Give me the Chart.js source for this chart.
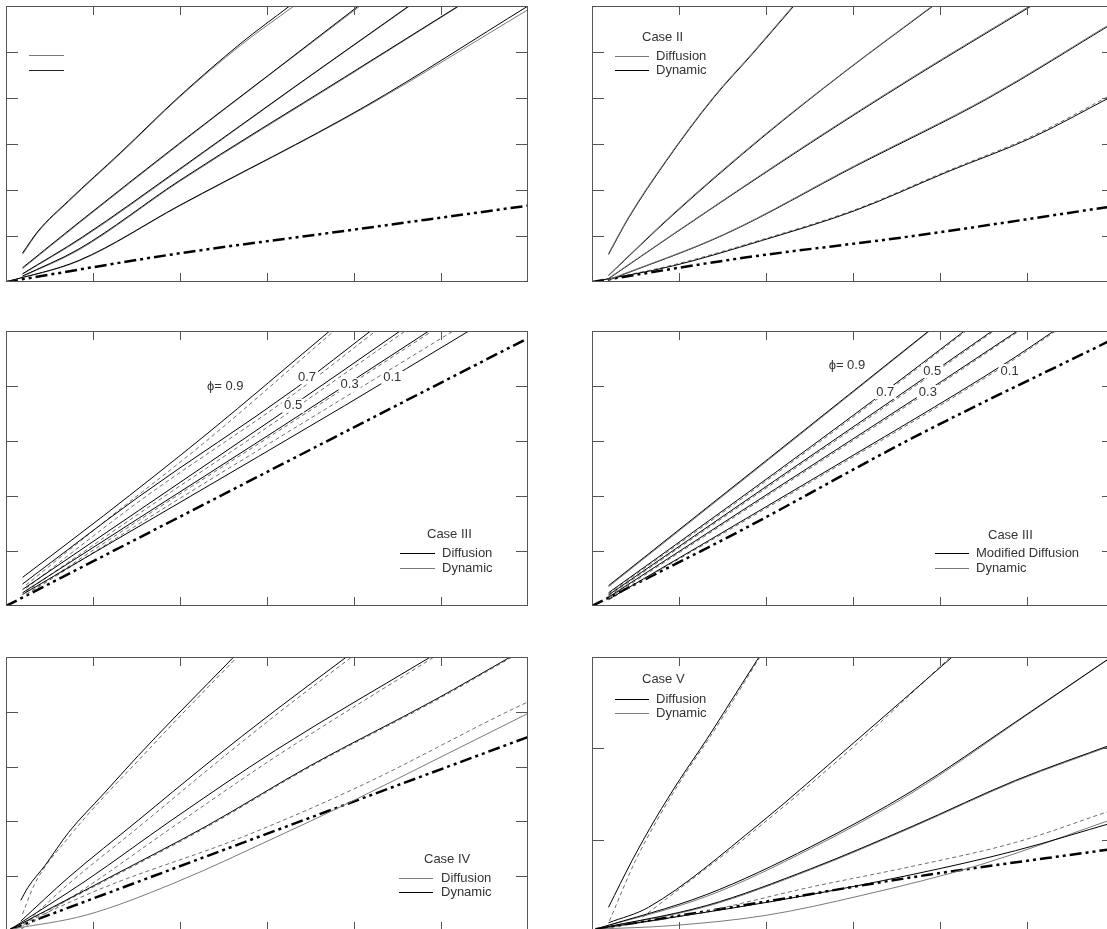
<!DOCTYPE html>
<html>
<head>
<meta charset="utf-8">
<script src="https://cdn.jsdelivr.net/npm/chart.js@4.4.0/dist/chart.umd.min.js"></script>
<style>
  html, body { margin: 0; padding: 0; background: #fff; overflow: hidden; width: 1107px; height: 929px; }
  canvas { position: absolute; }
</style>
</head>
<body>
<canvas id="g1" width="522" height="276" style="left:6px;top:6px"></canvas>
<canvas id="g2" width="522" height="276" style="left:592px;top:6px"></canvas>
<canvas id="g3" width="522" height="275" style="left:6px;top:331px"></canvas>
<canvas id="g4" width="522" height="275" style="left:592px;top:331px"></canvas>
<canvas id="g5" width="522" height="274" style="left:6px;top:657px"></canvas>
<canvas id="g6" width="522" height="274" style="left:592px;top:657px"></canvas>
<script>
// Marcas dos eixos
const ticksX = [1, 2, 3, 4, 5];
const ticksY6 = [1, 2, 3, 4, 5];
const ticksY5 = [1, 2, 3, 4];
const ticksY3 = [1, 2];

// Painel 1
const p1_c1_dif = [[0.19,0.63],[0.37,1.11],[0.72,1.77],[1.32,2.82],[1.99,4.03],[2.70,5.19],[3.26,6.0]];
const p1_c1_din = [[0.19,0.60],[0.37,1.09],[0.72,1.75],[1.32,2.80],[1.99,4.01],[2.70,5.15],[3.31,6.0]];
const p1_c2_dif = [[0.19,0.31],[0.84,1.30],[1.99,3.01],[3.02,4.50],[4.05,6.0]];
const p1_c2_din = [[0.19,0.29],[0.84,1.28],[1.99,2.99],[3.02,4.49],[4.07,6.0]];
const p1_c3_dif = [[0.19,0.18],[0.88,0.98],[1.99,2.45],[3.30,4.22],[4.63,6.0]];
const p1_c3_din = [[0.19,0.17],[0.88,0.96],[1.99,2.43],[3.30,4.21],[4.64,6.0]];
const p1_c4_dif = [[0.19,0.13],[0.84,0.72],[1.99,2.20],[3.89,4.45],[5.20,6.0]];
const p1_c4_din = [[0.19,0.12],[0.84,0.70],[1.99,2.18],[3.89,4.43],[5.21,6.0]];
const p1_c5_dif = [[0.0,0.0],[0.84,0.47],[1.99,1.66],[4.13,3.82],[6.0,6.0]];
const p1_c5_din = [[0.0,0.0],[0.84,0.46],[1.99,1.65],[4.13,3.80],[6.0,5.92]];
const p1_base = [[0,0],[1.91,0.60],[3.89,1.11],[6.0,1.66]];

// Painel 2 - Case II
const p2_c1_dif = [[0.19,0.62],[0.42,1.41],[0.85,2.64],[1.40,4.03],[1.84,4.97],[2.31,6.0]];
const p2_c1_din = [[0.19,0.60],[0.42,1.39],[0.85,2.62],[1.40,4.01],[1.84,4.95],[2.32,6.0]];
const p2_c2_dif = [[0.19,0.15],[0.93,1.48],[1.95,3.15],[2.90,4.57],[3.91,6.0]];
const p2_c2_din = [[0.19,0.14],[0.93,1.46],[1.95,3.13],[2.90,4.56],[3.92,6.0]];
const p2_c3_dif = [[0.19,0.08],[0.93,1.04],[2.51,3.04],[3.69,4.46],[5.03,6.0]];
const p2_c3_din = [[0.19,0.07],[0.93,1.03],[2.51,3.02],[3.69,4.44],[5.05,6.0]];
const p2_c4_dif = [[0.19,0.05],[1.52,1.04],[3.02,2.53],[4.56,4.02],[6.0,5.66]];
const p2_c4_din = [[0.19,0.04],[1.52,1.03],[3.02,2.51],[4.56,4.00],[6.0,5.64]];
const p2_c5_dif = [[0,0],[0.93,0.35],[1.95,0.90],[3.02,1.55],[4.08,2.39],[5.07,3.15],[6.0,4.06]];
const p2_c5_din = [[0,0],[0.93,0.37],[1.95,0.92],[3.02,1.57],[4.08,2.41],[5.07,3.18],[6.0,4.10]];
const p2_base = [[0,0],[1.72,0.52],[3.69,1.0],[6.0,1.65]];

// Painel 3 - Case III
const p3_09_dif = [[0.19,0.52],[1.12,1.64],[2.31,3.13],[3.72,5.0]];
const p3_09_din = [[0.23,0.38],[1.12,1.52],[2.31,3.01],[3.77,5.0]];
const p3_07_dif = [[0.19,0.40],[1.52,1.98],[3.34,3.97],[4.19,5.0]];
const p3_07_din = [[0.23,0.32],[1.52,1.89],[3.34,3.89],[4.25,5.0]];
const p3_05_dif = [[0.19,0.30],[1.52,1.73],[3.18,3.52],[4.53,5.0]];
const p3_05_din = [[0.23,0.26],[1.52,1.67],[3.18,3.44],[4.59,5.0]];
const p3_03_dif = [[0.19,0.24],[1.52,1.59],[3.10,3.19],[4.86,5.0]];
const p3_03_din = [[0.23,0.21],[1.52,1.55],[3.10,3.15],[4.90,5.0]];
const p3_01_dif = [[0.19,0.21],[1.91,1.80],[3.89,3.64],[5.32,5.0]];
const p3_01_din = [[0.23,0.20],[1.91,1.87],[3.89,3.79],[5.14,5.0]];
const p3_base = [[0,0],[1.91,1.55],[3.89,3.16],[6.0,4.87]];

// Painel 4 - Case III (modified)
const p4_09_dif = [[0.19,0.37],[2.03,2.68],[3.87,5.0]];
const p4_09_din = [[0.19,0.35],[2.03,2.66],[3.88,5.0]];
const p4_07_dif = [[0.19,0.24],[1.72,1.98],[3.26,3.77],[4.28,5.0]];
const p4_07_din = [[0.19,0.22],[1.72,1.95],[3.26,3.74],[4.30,5.0]];
const p4_05_dif = [[0.19,0.20],[2.11,2.29],[4.00,4.34],[4.60,5.0]];
const p4_05_din = [[0.19,0.18],[2.11,2.26],[4.00,4.31],[4.62,5.0]];
const p4_03_dif = [[0.19,0.16],[2.11,2.13],[3.87,3.93],[4.89,5.0]];
const p4_03_din = [[0.19,0.14],[2.11,2.10],[3.87,3.90],[4.91,5.0]];
const p4_01_dif = [[0.19,0.12],[2.51,2.28],[4.79,4.45],[5.31,5.0]];
const p4_01_din = [[0.19,0.11],[2.51,2.25],[4.79,4.42],[5.33,5.0]];
const p4_base = [[0,0],[1.72,1.38],[3.69,3.06],[6.0,4.86]];

// Painel 5 - Case IV
const p5_c1_dif = [[0.17,0.56],[0.25,0.79],[0.45,1.20],[0.72,1.80],[1.12,2.50],[1.52,3.20],[1.91,3.85],[2.31,4.50],[2.63,5.02]];
const p5_c1_din = [[0.19,0.31],[0.33,0.86],[0.72,1.71],[1.12,2.44],[1.52,3.11],[1.91,3.77],[2.31,4.43],[2.67,5.02]];
const p5_c2_dif = [[0.17,0.18],[0.72,0.98],[1.52,2.02],[2.31,3.05],[3.10,4.03],[3.93,5.02]];
const p5_c2_din = [[0.19,0.09],[0.72,0.86],[1.52,1.89],[2.31,2.93],[3.10,3.94],[3.99,5.02]];
const p5_c3_dif = [[0.05,0.03],[0.92,0.92],[1.91,2.03],[3.10,3.30],[4.90,5.02]];
const p5_c3_din = [[0.17,0.03],[0.92,0.79],[1.91,1.89],[3.10,3.18],[4.94,5.02]];
const p5_c4_dif = [[0.05,0.03],[1.12,0.92],[2.31,1.92],[3.50,3.02],[4.92,4.21],[5.82,5.02]];
const p5_c4_din = [[0.05,0.03],[1.12,0.90],[2.31,1.90],[3.50,3.00],[4.92,4.19],[5.84,5.02]];
const p5_c5_din = [[0.05,0.03],[1.12,0.79],[2.71,1.71],[4.09,2.66],[5.76,4.00],[6.0,4.18]];
const p5_c6_dif = [[0.05,0.03],[0.92,0.29],[1.91,0.86],[3.10,1.71],[3.89,2.30],[5.08,3.24],[6.0,3.97]];
const p5_base = [[0.05,0.03],[1.91,1.13],[3.89,2.30],[6.0,3.54]];

// Painel 6 - Case V
const p6_c1_dif = [[0.19,0.26],[0.46,0.77],[0.73,1.23],[1.01,1.66],[1.32,2.10],[1.60,2.52],[1.92,3.0]];
const p6_c1_din = [[0.20,0.11],[0.50,0.77],[0.77,1.25],[1.05,1.69],[1.36,2.13],[1.64,2.55],[1.93,3.0]];
const p6_c2_dif = [[0.19,0.09],[0.65,0.26],[1.92,1.17],[3.02,2.07],[4.14,3.0]];
const p6_c2_din = [[0.58,0.15],[1.92,1.14],[3.02,2.03],[4.12,3.0]];
const p6_c3_dif = [[0.04,0.02],[1.32,0.40],[2.51,0.92],[3.69,1.54],[4.87,2.29],[6.0,3.02]];
const p6_c3_din = [[0.04,0.02],[1.32,0.38],[2.51,0.90],[3.69,1.52],[4.87,2.28],[6.0,3.02]];
const p6_c4_dif = [[0.04,0.02],[1.32,0.28],[2.51,0.68],[3.69,1.15],[4.87,1.65],[6.0,2.05]];
const p6_c4_din = [[0.04,0.02],[1.32,0.27],[2.51,0.67],[3.69,1.14],[4.87,1.64],[6.0,2.04]];
const p6_c5_din = [[0.04,0.02],[1.13,0.18],[2.51,0.48],[3.69,0.71],[4.87,0.97],[6.0,1.33]];
const p6_c6_dif = [[0.04,0.02],[2.11,0.33],[3.69,0.62],[4.87,0.88],[6.0,1.19]];
const p6_c7_din = [[0.04,0.02],[0.93,0.06],[1.99,0.17],[3.10,0.39],[4.48,0.73],[6.0,1.23]];
const p6_base = [[0.04,0.02],[2.11,0.34],[3.69,0.59],[6.0,0.90]];

// Estilos das linhas
const estilos = {
    preto: { borderColor: '#000', borderWidth: 1 },
    cinza: { borderColor: '#7a7a7a', borderWidth: 1 },
    tracejado: { borderColor: '#6e6e6e', borderWidth: 1, borderDash: [4, 3] },
    base: { borderColor: '#000', borderWidth: 2.5, borderDash: [12, 4, 3, 4, 3, 4] }
};

const fonte = '13px "Liberation Sans", Arial, sans-serif';

function serie(pontos, estilo) {
    return Object.assign({
        data: pontos.map(([x, y]) => ({ x: x, y: y })),
        pointRadius: 0,
        fill: false,
        cubicInterpolationMode: 'monotone'
    }, estilos[estilo]);
}

// Moldura, marcas internas, legenda e rotulos
function pluginMoldura(cfg) {
    return {
        id: 'moldura',
        afterDatasetsDraw(chart) {
            const ctx = chart.ctx;
            const sx = chart.scales.x;
            const sy = chart.scales.y;
            const a = chart.chartArea;
            ctx.save();
            ctx.font = fonte;
            ctx.textBaseline = 'middle';

            (cfg.rotulos || []).forEach(r => {
                const px = sx.getPixelForValue(r.x);
                const py = sy.getPixelForValue(r.y);
                const w = ctx.measureText(r.texto).width;
                ctx.fillStyle = '#fff';
                ctx.fillRect(px - w / 2 - 2, py - 7, w + 4, 14);
                ctx.fillStyle = '#333';
                ctx.textAlign = 'center';
                ctx.fillText(r.texto, px, py);
            });

            const leg = cfg.legenda;
            if (leg) {
                ctx.textAlign = 'left';
                if (leg.titulo) {
                    ctx.fillStyle = '#333';
                    ctx.fillText(leg.titulo, leg.tx, leg.ty);
                }
                leg.itens.forEach(item => {
                    ctx.strokeStyle = item.cor;
                    ctx.lineWidth = 1;
                    ctx.beginPath();
                    ctx.moveTo(leg.linhaX[0], item.y + 0.5);
                    ctx.lineTo(leg.linhaX[1], item.y + 0.5);
                    ctx.stroke();
                    if (item.texto) {
                        ctx.fillStyle = '#333';
                        ctx.fillText(item.texto, leg.textoX, item.y);
                    }
                });
            }

            ctx.strokeStyle = '#555';
            ctx.lineWidth = 1;
            ctx.strokeRect(a.left + 0.5, a.top + 0.5, a.right - a.left - 1, a.bottom - a.top - 1);
            ctx.beginPath();
            ticksX.forEach(v => {
                const px = Math.round(sx.getPixelForValue(v)) + 0.5;
                ctx.moveTo(px, a.top);
                ctx.lineTo(px, a.top + 9);
                ctx.moveTo(px, a.bottom);
                ctx.lineTo(px, a.bottom - 9);
            });
            cfg.ticksY.forEach(v => {
                const py = Math.round(sy.getPixelForValue(v)) + 0.5;
                ctx.moveTo(a.left, py);
                ctx.lineTo(a.left + 12, py);
                ctx.moveTo(a.right, py);
                ctx.lineTo(a.right - 12, py);
            });
            ctx.stroke();
            ctx.restore();
        }
    };
}

function criarGrafico(id, yMax, series, cfg) {
    const canvas = document.querySelector('#' + id);
    return new Chart(canvas, {
        type: 'line',
        data: { datasets: series.map(s => serie(s[0], s[1])) },
        options: {
            responsive: false,
            animation: false,
            devicePixelRatio: 1,
            layout: { padding: 0 },
            plugins: { legend: { display: false }, tooltip: { enabled: false } },
            scales: {
                x: { type: 'linear', min: 0, max: 6, display: false },
                y: { type: 'linear', min: 0, max: yMax, display: false }
            }
        },
        plugins: [pluginMoldura(cfg)]
    });
}

criarGrafico('g1', 6, [
    [p1_c1_dif, 'preto'], [p1_c2_dif, 'preto'], [p1_c3_dif, 'preto'], [p1_c4_dif, 'preto'], [p1_c5_dif, 'preto'],
    [p1_c1_din, 'cinza'], [p1_c2_din, 'cinza'], [p1_c3_din, 'cinza'], [p1_c4_din, 'cinza'], [p1_c5_din, 'cinza'],
    [p1_base, 'base']
], {
    ticksY: ticksY6,
    legenda: { linhaX: [23, 58], itens: [{ y: 49, cor: '#7a7a7a' }, { y: 64, cor: '#222' }] }
});

criarGrafico('g2', 6, [
    [p2_c1_dif, 'cinza'], [p2_c2_dif, 'cinza'], [p2_c3_dif, 'cinza'], [p2_c4_dif, 'cinza'],
    [p2_c1_din, 'preto'], [p2_c2_din, 'preto'], [p2_c3_din, 'preto'], [p2_c4_din, 'preto'],
    [p2_c5_dif, 'preto'], [p2_c5_din, 'tracejado'],
    [p2_base, 'base']
], {
    ticksY: ticksY6,
    legenda: {
        titulo: 'Case II', tx: 50, ty: 31, linhaX: [23, 57], textoX: 64,
        itens: [{ texto: 'Diffusion', y: 50, cor: '#7a7a7a' }, { texto: 'Dynamic', y: 64, cor: '#000' }]
    }
});

criarGrafico('g3', 5, [
    [p3_09_dif, 'preto'], [p3_07_dif, 'preto'], [p3_05_dif, 'preto'], [p3_03_dif, 'preto'], [p3_01_dif, 'preto'],
    [p3_09_din, 'tracejado'], [p3_07_din, 'tracejado'], [p3_05_din, 'tracejado'], [p3_03_din, 'tracejado'], [p3_01_din, 'tracejado'],
    [p3_base, 'base']
], {
    ticksY: ticksY5,
    rotulos: [
        { texto: 'ϕ= 0.9', x: 2.52, y: 4.0 },
        { texto: '0.7', x: 3.46, y: 4.16 },
        { texto: '0.5', x: 3.30, y: 3.64 },
        { texto: '0.3', x: 3.95, y: 4.02 },
        { texto: '0.1', x: 4.44, y: 4.15 }
    ],
    legenda: {
        titulo: 'Case III', tx: 421, ty: 203, linhaX: [394, 429], textoX: 436,
        itens: [{ texto: 'Diffusion', y: 222, cor: '#000' }, { texto: 'Dynamic', y: 237, cor: '#7a7a7a' }]
    }
});

criarGrafico('g4', 5, [
    [p4_09_dif, 'preto'], [p4_07_dif, 'preto'], [p4_05_dif, 'preto'], [p4_03_dif, 'preto'], [p4_01_dif, 'preto'],
    [p4_09_din, 'cinza'], [p4_07_din, 'tracejado'], [p4_05_din, 'tracejado'], [p4_03_din, 'tracejado'], [p4_01_din, 'tracejado'],
    [p4_base, 'base']
], {
    ticksY: ticksY5,
    rotulos: [
        { texto: 'ϕ= 0.9', x: 2.93, y: 4.37 },
        { texto: '0.5', x: 3.91, y: 4.27 },
        { texto: '0.7', x: 3.37, y: 3.89 },
        { texto: '0.3', x: 3.86, y: 3.89 },
        { texto: '0.1', x: 4.80, y: 4.27 }
    ],
    legenda: {
        titulo: 'Case III', tx: 396, ty: 204, linhaX: [343, 377], textoX: 384,
        itens: [{ texto: 'Modified Diffusion', y: 222, cor: '#000' }, { texto: 'Dynamic', y: 237, cor: '#7a7a7a' }]
    }
});

criarGrafico('g5', 5, [
    [p5_c1_dif, 'preto'], [p5_c2_dif, 'preto'], [p5_c3_dif, 'preto'], [p5_c4_dif, 'preto'],
    [p5_c1_din, 'tracejado'], [p5_c2_din, 'tracejado'], [p5_c3_din, 'tracejado'], [p5_c4_din, 'tracejado'],
    [p5_c5_din, 'tracejado'], [p5_c6_dif, 'cinza'],
    [p5_base, 'base']
], {
    ticksY: ticksY5,
    legenda: {
        titulo: 'Case IV', tx: 418, ty: 202, linhaX: [393, 427], textoX: 435,
        itens: [{ texto: 'Diffusion', y: 221, cor: '#7a7a7a' }, { texto: 'Dynamic', y: 235, cor: '#000' }]
    }
});

criarGrafico('g6', 3, [
    [p6_c1_dif, 'preto'], [p6_c2_dif, 'preto'], [p6_c3_dif, 'preto'], [p6_c4_dif, 'preto'], [p6_c6_dif, 'preto'],
    [p6_c1_din, 'tracejado'], [p6_c2_din, 'tracejado'], [p6_c3_din, 'cinza'], [p6_c4_din, 'cinza'],
    [p6_c5_din, 'tracejado'], [p6_c7_din, 'cinza'],
    [p6_base, 'base']
], {
    ticksY: ticksY3,
    legenda: {
        titulo: 'Case V', tx: 50, ty: 22, linhaX: [23, 57], textoX: 64,
        itens: [{ texto: 'Diffusion', y: 42, cor: '#000' }, { texto: 'Dynamic', y: 56, cor: '#7a7a7a' }]
    }
});
</script>
</body>
</html>
